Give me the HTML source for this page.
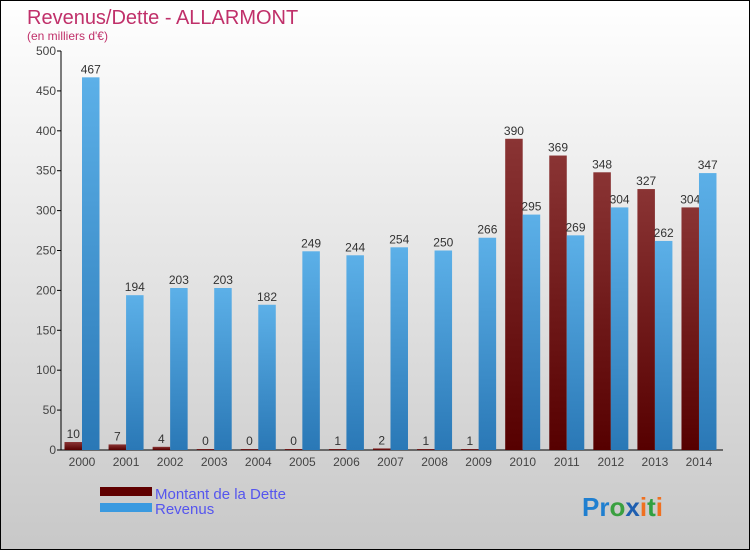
<!DOCTYPE html>
<html><head><meta charset="utf-8"><style>
body{margin:0;width:750px;height:550px;overflow:hidden;font-family:"Liberation Sans",sans-serif}
</style></head><body>
<svg id="c" width="750" height="550" xmlns="http://www.w3.org/2000/svg">
<defs>
<linearGradient id="bg" x1="0" y1="0" x2="0" y2="1"><stop offset="0" stop-color="#ffffff"/><stop offset="1" stop-color="#c8c8c8"/></linearGradient>
<linearGradient id="gd" x1="0" y1="0" x2="0" y2="1"><stop offset="0" stop-color="#8a3434"/><stop offset="1" stop-color="#560000"/></linearGradient>
<linearGradient id="gr" x1="0" y1="0" x2="0" y2="1"><stop offset="0" stop-color="#5cb0e8"/><stop offset="1" stop-color="#2a78b6"/></linearGradient>
</defs>
<rect x="0.5" y="0.5" width="749" height="549" fill="url(#bg)" stroke="#000"/>
<text x="27" y="24" font-size="20" fill="#c0306a">Revenus/Dette - ALLARMONT</text>
<text x="27" y="40" font-size="12" fill="#c0306a">(en milliers d'€)</text>
<g id="axes"></g>
<g id="bars"></g>
<rect x="100" y="487" width="52" height="9" fill="#600000"/>
<text x="155" y="499" font-size="15" fill="#5555ee">Montant de la Dette</text>
<rect x="100" y="503" width="52" height="9" fill="#3a9ae0"/>
<text x="155" y="514" font-size="15" fill="#5555ee">Revenus</text>
<text x="582" y="516" font-size="26" font-weight="bold"><tspan fill="#1f7fd0">Pr</tspan><tspan fill="#3aa040">o</tspan><tspan fill="#1f5fb0">x</tspan><tspan fill="#f07020">i</tspan><tspan fill="#30a040">t</tspan><tspan fill="#f07020">i</tspan></text>
</svg>
<script>
const years=["2000","2001","2002","2003","2004","2005","2006","2007","2008","2009","2010","2011","2012","2013","2014"];
const dette=[10,7,4,0,0,0,1,2,1,1,390,369,348,327,304];
const revenus=[467,194,203,203,182,249,244,254,250,266,295,269,304,262,347];
const yTicks=[0,50,100,150,200,250,300,350,400,450,500];
const NS="http://www.w3.org/2000/svg";
const y0=450,k=399/500,x0=82,step=44.07,bw=17.5;
const Y=v=>y0-v*k, X=i=>x0+i*step;
function mk(t,a,p){const e=document.createElementNS(NS,t);for(const n in a)e.setAttribute(n,a[n]);p.appendChild(e);return e;}
const ax=document.getElementById('axes'),bg=document.getElementById('bars');
const yl=mk('line',{x1:61,y1:51,x2:61,y2:450,stroke:'#000'},ax);


const xl=mk('line',{x1:61,y1:450,x2:723,y2:450,stroke:'#000'},ax);


yTicks.forEach(v=>{
 const t=mk('line',{x1:57,y1:Y(v),x2:61,y2:Y(v),stroke:'#000'},ax);
 
 
 const l=mk('text',{x:56,y:Y(v)+4,'font-size':12,fill:'#444','text-anchor':'end'},ax);
 l.textContent=v;
 
 
});
years.forEach((yr,i)=>{
 const c=X(i);
 const l=mk('text',{x:c,y:466,'font-size':12,fill:'#444','text-anchor':'middle'},ax);
 l.textContent=yr;
 
 
 const hd=Math.max(dette[i]*k,1);
 const b1=mk('rect',{x:c-bw,y:y0-hd,width:bw,height:hd,fill:'url(#gd)'},bg);
 
 
 const t1=mk('text',{x:c-bw/2,y:y0-hd-4,'font-size':12,fill:'#333','text-anchor':'middle'},bg);
 t1.textContent=dette[i];
 
 
 const hr=revenus[i]*k;
 const b2=mk('rect',{x:c,y:y0-hr,width:bw,height:hr,fill:'url(#gr)'},bg);
 
 
 const t2=mk('text',{x:c+bw/2,y:y0-hr-4,'font-size':12,fill:'#333','text-anchor':'middle'},bg);
 t2.textContent=revenus[i];
 
 
});
</script>
</body></html>
